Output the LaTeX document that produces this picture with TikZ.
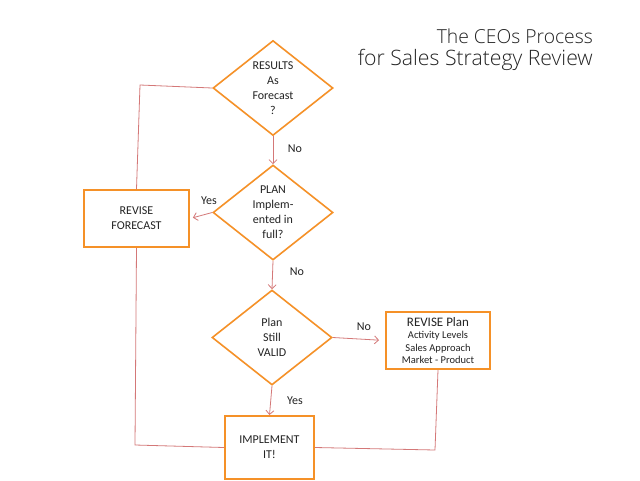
\documentclass[tikz,border=0pt]{standalone}
\usepackage{fontspec}
\setmainfont{Carlito}
\newfontfamily\titlefont{Open Sans Light}[BoldFont={Open Sans}]
\usetikzlibrary{shapes.geometric,arrows.meta}
\definecolor{boxorange}{RGB}{245,145,40}
\definecolor{linered}{RGB}{212,120,120}
\definecolor{txt}{RGB}{35,35,35}
\tikzset{
  decision/.style={diamond,draw=boxorange,line width=1.6pt,inner sep=0pt,
    minimum width=120pt,minimum height=95pt,align=center,text=txt,
    font=\fontsize{12}{15}\selectfont},
  actbox/.style={rectangle,draw=boxorange,line width=2pt,align=center,text=txt,
    font=\fontsize{12}{15}\selectfont},
  conn/.style={draw=linered,line width=0.8pt},
  arr/.style={conn,-{Straight Barb[length=4pt,width=8pt]}},
  lbl/.style={text=txt,font=\fontsize{12}{13}\selectfont,inner sep=0pt}
}
\begin{document}
\begin{tikzpicture}[x=1pt,y=-1pt]
\useasboundingbox[fill=white] (0,0) rectangle (640,480);
% title
\node[anchor=east,inner sep=0pt,text=txt] (t1) at (593,36) {\titlefont\resizebox{156pt}{!}{The CEOs Process}};
\node[anchor=east,inner sep=0pt,text=txt] (t2) at (593,60) {\titlefont\resizebox{235pt}{!}{for Sales Strategy Review}};
% nodes
\node[decision] (d1) at (273,88) {RESULTS\\As\\Forecast\\?};
\node[decision] (d2) at (273,212.5) {PLAN\\Implem-\\ented in\\full?};
\node[decision] (d3) at (272,337.5) {Plan\\Still\\VALID};
\node[actbox,minimum width=105pt,minimum height=57pt] (rf) at (136.5,218.5) {REVISE\\FORECAST};
\node[actbox,minimum width=104pt,minimum height=57pt,font=\fontsize{10.5}{12.5}\selectfont] (rp) at (438,340.5)
  {{\fontsize{13}{14}\selectfont REVISE Plan}\\Activity Levels\\Sales Approach\\Market - Product};
\node[actbox,minimum width=89pt,minimum height=63pt] (im) at (269.5,447.5) {IMPLEMENT\\IT!};
% corner coordinates
\coordinate (c1) at (140,85);
\coordinate (c2) at (135,445);
\coordinate (c3) at (435,450);
% arrows
\draw[arr] (d1.south) -- (d2.north);
\draw[arr] (d2.south) -- (d3.north);
\draw[arr] (d3.south) -- (im.north);
\draw[arr,shorten >=3pt] (d2.west) -- (rf.east);
\draw[arr,shorten >=6pt] (d3.east) -- (rp.west);
% plain connectors
\draw[conn] (d1.west) -- (c1) -- (rf.north);
\draw[conn] (rf.south) -- (c2) -- (im.west);
\draw[conn] (im.east) -- (c3) -- (rp.south);
% labels
\node[lbl] (l1) at (295,149) {No};
\node[lbl] (l2) at (209,201) {Yes};
\node[lbl] (l3) at (297,272) {No};
\node[lbl] (l4) at (364,327) {No};
\node[lbl] (l5) at (295,401) {Yes};
\end{tikzpicture}
\end{document}
